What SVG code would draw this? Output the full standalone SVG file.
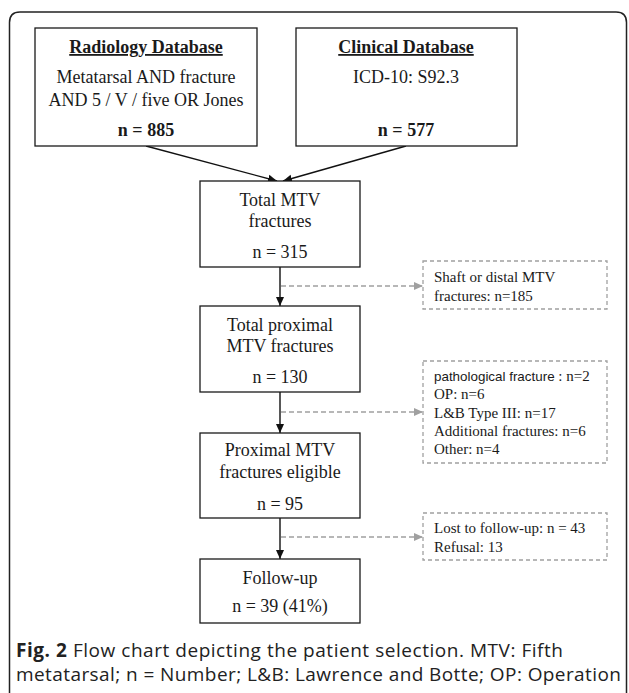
<svg xmlns="http://www.w3.org/2000/svg" width="629" height="693" viewBox="0 0 629 693">
<defs>
<marker id="ah" markerWidth="10" markerHeight="10" refX="9" refY="5" orient="auto" markerUnits="userSpaceOnUse"><path d="M0,1 L9,5 L0,9 Z" fill="#111"/></marker>
<marker id="ahg" markerWidth="10" markerHeight="10" refX="9" refY="5" orient="auto" markerUnits="userSpaceOnUse"><path d="M0,1 L9,5 L0,9 Z" fill="#a0a0a0"/></marker>
</defs>
<style>
.box{fill:#fff;stroke:#1a1a1a;stroke-width:1.3}
.dbox{fill:#fff;stroke:#a0a0a0;stroke-width:1.3;stroke-dasharray:4,3}
.t{font-family:"Liberation Serif","Times New Roman",serif;font-size:18px;fill:#1a1a1a;text-anchor:middle}
.tb{font-family:"Liberation Serif","Times New Roman",serif;font-size:18px;font-weight:bold;fill:#1a1a1a;text-anchor:middle}
.s{font-family:"Liberation Serif","Times New Roman",serif;font-size:15px;fill:#1a1a1a}
.ss{font-family:"Liberation Sans",Arial,sans-serif;font-size:13.4px;fill:#1a1a1a}
.c{font-family:"Open Sans","Liberation Sans",sans-serif;font-size:19px;fill:#222}
.line{stroke:#111;stroke-width:1.4;fill:none}
.dline{stroke:#a0a0a0;stroke-width:1.4;fill:none;stroke-dasharray:5,3}
</style>
<rect width="629" height="693" fill="#fff"/>
<path d="M9.5,700 V22.5 Q9.5,12 20,12 H616 Q626.5,12 626.5,22.5 V700" fill="none" stroke="#222" stroke-width="1.5"/>

<g id="connectors">
<line class="line" x1="146" y1="146" x2="277" y2="181" marker-end="url(#ah)"/>
<line class="line" x1="406" y1="146" x2="283" y2="181" marker-end="url(#ah)"/>
<line class="line" x1="280" y1="267" x2="280" y2="306" marker-end="url(#ah)"/>
<line class="line" x1="280" y1="392" x2="280" y2="433" marker-end="url(#ah)"/>
<line class="line" x1="280" y1="518" x2="280" y2="559" marker-end="url(#ah)"/>
<line class="dline" x1="281" y1="286" x2="423" y2="286" marker-end="url(#ahg)"/>
<line class="dline" x1="281" y1="412" x2="423" y2="412" marker-end="url(#ahg)"/>
<line class="dline" x1="281" y1="537" x2="423" y2="537" marker-end="url(#ahg)"/>
</g>

<g id="radiology">
<rect class="box" x="35" y="28" width="222" height="118"/>
<text class="tb" x="146" y="53" text-decoration="underline">Radiology Database</text>
<text class="t" x="146" y="83">Metatarsal AND fracture</text>
<text class="t" x="146" y="106">AND 5 / V / five OR Jones</text>
<text class="tb" x="146" y="136">n = 885</text>
</g>

<g id="clinical">
<rect class="box" x="296" y="28" width="221" height="118"/>
<text class="tb" x="406" y="53" text-decoration="underline">Clinical Database</text>
<text class="t" x="406" y="83">ICD-10: S92.3</text>
<text class="tb" x="406" y="136">n = 577</text>
</g>

<g id="total">
<rect class="box" x="200" y="181" width="160" height="86"/>
<text class="t" x="280" y="206">Total MTV</text>
<text class="t" x="280" y="227">fractures</text>
<text class="t" x="280" y="258">n = 315</text>
</g>

<g id="shaft">
<rect class="dbox" x="423" y="261" width="184" height="48"/>
<text class="s" x="434" y="282">Shaft or distal MTV</text>
<text class="s" x="434" y="301">fractures: n=185</text>
</g>

<g id="proximal">
<rect class="box" x="200" y="306" width="160" height="86"/>
<text class="t" x="280" y="331">Total proximal</text>
<text class="t" x="280" y="352">MTV fractures</text>
<text class="t" x="280" y="383">n = 130</text>
</g>

<g id="exclusions">
<rect class="dbox" x="423" y="361" width="184" height="102"/>
<text x="434" y="381"><tspan class="ss">pathological fracture </tspan><tspan class="s">: n=2</tspan></text>
<text class="s" x="434" y="399">OP: n=6</text>
<text class="s" x="434" y="418">L&amp;B Type III: n=17</text>
<text class="s" x="434" y="436">Additional fractures: n=6</text>
<text class="s" x="434" y="454">Other: n=4</text>
</g>

<g id="eligible">
<rect class="box" x="200" y="433" width="160" height="85"/>
<text class="t" x="280" y="456">Proximal MTV</text>
<text class="t" x="280" y="478">fractures eligible</text>
<text class="t" x="280" y="510">n = 95</text>
</g>

<g id="lost">
<rect class="dbox" x="423" y="513" width="184" height="47"/>
<text class="s" x="434" y="533">Lost to follow-up: n = 43</text>
<text class="s" x="434" y="552">Refusal: 13</text>
</g>

<g id="followup">
<rect class="box" x="200" y="559" width="160" height="64"/>
<text class="t" x="280" y="584">Follow-up</text>
<text class="t" x="280" y="612">n = 39 (41%)</text>
</g>

<g id="caption">
<text class="c" x="16" y="657" textLength="547" lengthAdjust="spacing"><tspan font-weight="bold">Fig. 2</tspan> Flow chart depicting the patient selection. MTV: Fifth</text>
<text class="c" x="16" y="681" textLength="605" lengthAdjust="spacing">metatarsal; n = Number; L&amp;B: Lawrence and Botte; OP: Operation</text>
</g>
</svg>
